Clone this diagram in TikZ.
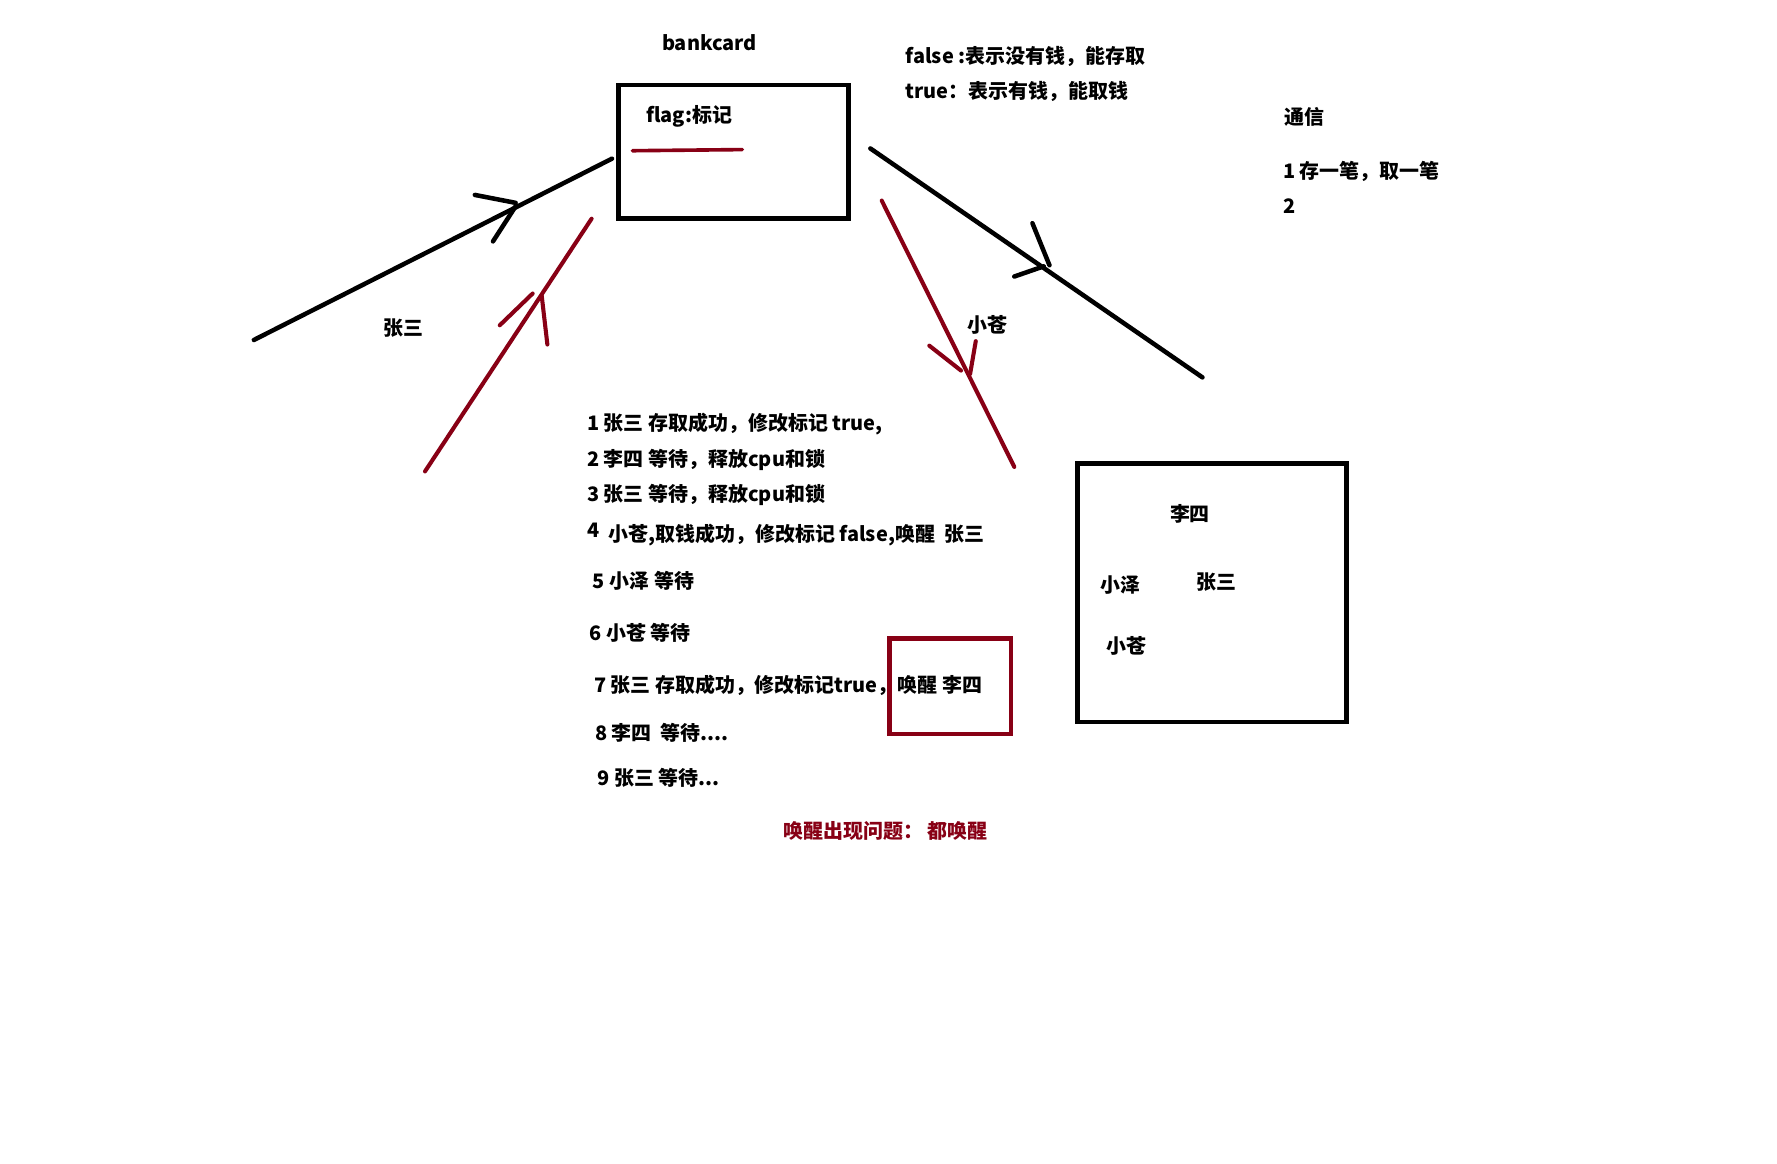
\documentclass[tikz,border=0pt]{standalone}
\usepackage{fontspec}
\setmainfont{Noto Sans CJK SC}
\definecolor{paintred}{RGB}{136,0,21}
\begin{document}
\begin{tikzpicture}[x=1pt,y=-1pt,
  txt/.style={font=\fontsize{17.6}{20}\selectfont\bfseries, inner sep=0pt, yshift=-1.5pt},
  lft/.style={txt, anchor=west},
  pen/.style={line width=4pt, line cap=round, line join=round},
  redpen/.style={pen, draw=paintred, line width=3.6pt},
  frame/.style={draw, line width=4.2pt, inner sep=0pt},
  redframe/.style={frame, draw=paintred, line width=3.8pt}
]
\fill[white] (0,0) rectangle (1568,1027);
\useasboundingbox (0,0) rectangle (1568,1027);

% the bank card and its flag
\node[txt] (title) at (626,36) {bankcard};
\node[frame, minimum width=203pt, minimum height=118pt] (card) at (647.5,134) {};
\node[lft] (flag) at (570,101) {flag:标记};
\coordinate (ulA) at (558,133);
\coordinate (ulB) at (655,132);
\draw[redpen, line width=3.2pt] (ulA) -- (ulB);

% meaning of the flag
\node[lft] (fdesc) at (799,48) {false :表示没有钱，能存取};
\node[lft] (tdesc) at (799,79) {true：表示有钱，能取钱};

% communication notes
\node[lft] (comm) at (1133,102) {通信};
\node[lft] (comm1) at (1132,150) {1 存一笔，取一笔};
\node[lft] (comm2) at (1132,180) {2};

% depositor: black stroke into the card
\coordinate (zsA) at (224,300);
\coordinate (zsB) at (540,140);
\coordinate (zsTip) at (455,182);
\draw[pen] (zsA) -- (zsB);
\draw[pen] (419,172) -- (455,179);
\draw[pen] (435,213) -- (zsTip);
\node[txt] (zsLabel) at (356,288) {张三};

% depositor again: red stroke into the card
\coordinate (rlA) at (375,416);
\coordinate (rlB) at (522,193);
\coordinate (rlTip) at (478,261);
\draw[redpen] (rlA) -- (rlB);
\draw[redpen] (441,287) -- (470,259);
\draw[redpen] (rlTip) -- (483,304);

% withdrawer: black stroke out of the card
\coordinate (xcA) at (768,131);
\coordinate (xcB) at (1061,333);
\coordinate (xcTip) at (921,235);
\draw[pen] (xcA) -- (xcB);
\draw[pen] (911,197) -- (926,234);
\draw[pen] (895,244) -- (xcTip);
\node[txt] (xcLabel) at (871,285) {小苍};

% withdrawer again: red stroke out of the card
\coordinate (rrA) at (778,177);
\coordinate (rrB) at (895,412);
\coordinate (rrTip) at (856,330);
\draw[redpen] (rrA) -- (rrB);
\draw[redpen] (820,305) -- (848,327);
\draw[redpen] (861,301) .. controls (859,316) .. (rrTip);

% sequence of events
\node[lft] (s1) at (518,373) {1 张三 存取成功，修改标记 true,};
\node[lft] (s2) at (518,404) {2 李四 等待，释放cpu和锁};
\node[lft] (s3) at (518,435) {3 张三 等待，释放cpu和锁};
\node[lft] (s4n) at (518,466) {4};
\node[lft] (s4) at (537,471) {小苍,取钱成功，修改标记 false,唤醒\ \ 张三};
\node[lft] (s5) at (523,511) {5 小泽 等待};
\node[lft] (s6) at (520,557) {6 小苍 等待};
\node[lft] (s7) at (524,603) {7 张三 存取成功，修改标记true，};
\node[redframe, minimum width=107pt, minimum height=84pt] (wake) at (838.5,605.5) {};
\node[lft] (s7b) at (792,603) {唤醒 李四};
\node[lft] (s8) at (525,645) {8 李四\ \ 等待....};
\node[lft] (s9) at (527,685) {9 张三 等待...};
\node[lft, text=paintred] (issue) at (691,732) {唤醒出现问题：\ 都唤醒};

% waiting set
\node[frame, minimum width=237pt, minimum height=228pt] (pool) at (1069.5,523) {};
\node[txt] (pLisi) at (1050,452) {李四};
\node[txt] (pXiaoze) at (989,515) {小泽};
\node[txt] (pZhang) at (1073,512) {张三};
\node[txt] (pXiaocang) at (994,568) {小苍};
\end{tikzpicture}
\end{document}
